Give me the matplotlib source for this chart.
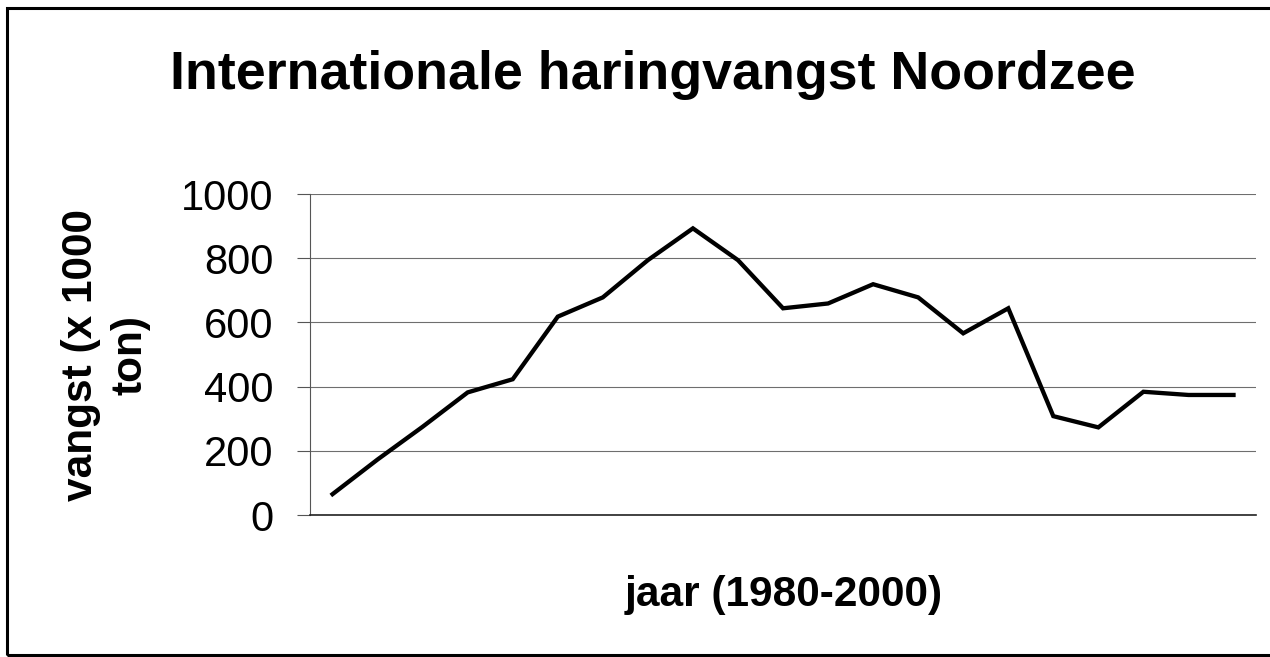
import matplotlib
matplotlib.use("Agg")
from matplotlib import pyplot
from matplotlib.patches import Rectangle

# data: herring catch North Sea, 1980-2000 (x 1000 ton)
years = list(range(1980, 2001))
vangst = [65, 173, 275, 382, 423, 618, 678, 794, 893, 794,
          644, 659, 719, 678, 566, 644, 308, 273, 384, 374, 374]
y_ticks = [0, 200, 400, 600, 800, 1000]

pyplot.rcParams['font.family'] = ['Liberation Sans', 'DejaVu Sans']

fig = pyplot.figure(figsize=(12.7, 6.57), dpi=100)
ax = fig.add_axes([0.2441, 0.2161, 0.7449, 0.4886])

x = list(range(len(years)))
ax.plot(x, vangst, color='black', linewidth=3.1, solid_joinstyle='miter')
ax.set_xlim(-0.5, len(years) - 0.5)
ax.set_ylim(0, 1000)
ax.set_yticks(y_ticks)
ax.set_yticklabels([str(t) for t in y_ticks])
ax.set_xticks([])

ax.yaxis.grid(True, color='#6e6e6e', linewidth=0.8)
ax.set_axisbelow(True)
for side in ['top', 'right']:
    ax.spines[side].set_visible(False)
ax.spines['left'].set_color('#555555')
ax.spines['left'].set_linewidth(0.8)
ax.spines['bottom'].set_color('#222222')
ax.spines['bottom'].set_linewidth(1.2)
ax.tick_params(axis='y', labelsize=30, length=9.4, width=0.8, color='#555555', pad=17)

fig.text(0.5138, 0.8645, 'Internationale haringvangst Noordzee',
         fontsize=38.7, fontweight='bold', ha='center', va='baseline')
fig.text(0.6173, 0.0776, 'jaar (1980-2000)',
         fontsize=30.5, fontweight='bold', ha='center', va='baseline')
fig.text(0.0835, 0.4597, 'vangst (x 1000\nton)', fontsize=30.5, fontweight='bold',
         rotation=90, ha='center', va='center', multialignment='center',
         linespacing=1.3)

# outer chart frame
fig.patches.append(Rectangle((7 / 1270, 2 / 657), 1.1, 647 / 657, transform=fig.transFigure,
                             fill=False, edgecolor='black', linewidth=2.2))

pyplot.savefig('out.png', dpi=100)
